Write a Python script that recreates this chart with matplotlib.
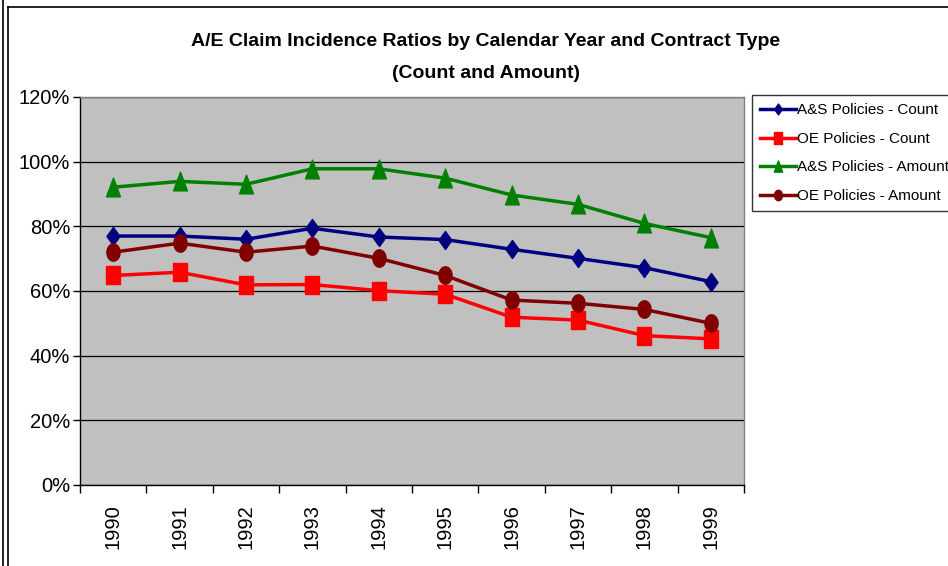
import matplotlib
matplotlib.use("Agg")
import matplotlib.pyplot as plt
from matplotlib.lines import Line2D
from matplotlib.path import Path
import numpy as np

years = ["1990", "1991", "1992", "1993", "1994", "1995", "1996", "1997", "1998", "1999"]
as_count = [77.0, 77.0, 76.0, 79.4, 76.7, 75.9, 72.9, 70.1, 67.2, 62.9]
oe_count = [64.8, 65.8, 61.9, 62.0, 60.1, 59.0, 51.9, 51.0, 46.2, 45.2]
as_amount = [92.1, 93.9, 93.0, 97.8, 97.8, 94.9, 89.7, 86.8, 80.9, 76.5]
oe_amount = [72.0, 74.8, 72.0, 73.9, 70.1, 64.8, 57.2, 56.2, 54.3, 50.0]
series_names = ["A&S Policies - Count", "OE Policies - Count",
                "A&S Policies - Amount", "OE Policies - Amount"]
y_ticks = [0, 20, 40, 60, 80, 100, 120]

font = "Liberation Sans"

# markers in the original are a bit taller than wide
diamond = Path([(0, 1), (0.72, 0), (0, -1), (-0.72, 0), (0, 1)], closed=True)
square = Path([(-0.72, -1), (0.72, -1), (0.72, 1), (-0.72, 1), (-0.72, -1)], closed=True)
triangle = Path([(0, 1), (0.74, -1), (-0.74, -1), (0, 1)], closed=True)
t = np.linspace(0, 2 * np.pi, 40)
ellipse = Path(np.column_stack([0.76 * np.cos(t), np.sin(t)]), closed=True)

W, H = 948, 566
fig = plt.figure(figsize=(W / 100, H / 100), dpi=100)
fig.patch.set_facecolor("white")

# chart frame lines
fig.add_artist(Line2D([3 / W, 3 / W], [0, 1], color="black", lw=1.2))
fig.add_artist(Line2D([8 / W, 8 / W], [0, 1 - 7 / H], color="black", lw=1.2))
fig.add_artist(Line2D([8 / W, 1], [1 - 7 / H, 1 - 7 / H], color="black", lw=1.2))

ax = fig.add_axes([80 / W, 1 - 485 / H, 664 / W, 388 / H])
ax.set_facecolor("#C0C0C0")

x = list(range(len(years)))
ax.plot(x, as_count, color="#000080", lw=2.5, marker=diamond, ms=13, label=series_names[0], zorder=3)
ax.plot(x, oe_count, color="#FF0000", lw=2.5, marker=square, ms=13.5, label=series_names[1], zorder=3)
ax.plot(x, as_amount, color="#008000", lw=2.5, marker=triangle, ms=13.5, label=series_names[2], zorder=3)
ax.plot(x, oe_amount, color="#800000", lw=2.5, marker=ellipse, ms=12.5, label=series_names[3], zorder=3)

ax.set_xlim(-0.5, len(years) - 0.5)
ax.set_ylim(0, 120)
ax.set_yticks(y_ticks)
ax.set_yticklabels([f"{v}%" for v in y_ticks], fontsize=14.5, family=font)
ax.yaxis.grid(True, color="black", lw=0.9)
ax.set_axisbelow(True)

ax.set_xticks(x)
ax.set_xticklabels(years, rotation=90, fontsize=14.5, family=font)
ax.set_xticks([i - 0.5 for i in range(len(years) + 1)], minor=True)
ax.tick_params(axis="x", which="major", length=0, pad=14)
ax.tick_params(axis="x", which="minor", length=6, width=1, direction="out")
ax.tick_params(axis="y", length=5, width=1, direction="out", pad=2)

for s in ["left", "bottom"]:
    ax.spines[s].set_color("black")
    ax.spines[s].set_linewidth(1)
for s in ["top", "right"]:
    ax.spines[s].set_color("#808080")
    ax.spines[s].set_linewidth(1)

fig.text(486 / W, 1 - 42 / H, "A/E Claim Incidence Ratios by Calendar Year and Contract Type",
         ha="center", va="center", fontsize=14, fontweight="bold", family=font)
fig.text(486 / W, 1 - 73 / H, "(Count and Amount)",
         ha="center", va="center", fontsize=14, fontweight="bold", family=font)

leg = fig.legend(loc="upper left", bbox_to_anchor=(752 / W, 1 - 95 / H),
                 prop={"family": font, "size": 11}, frameon=True, fancybox=False,
                 handlelength=2.3, handletextpad=0.1, markerscale=0.6,
                 labelspacing=0.95, borderpad=0.55, borderaxespad=0)
leg.get_frame().set_edgecolor("black")
leg.get_frame().set_linewidth(1)

fig.savefig("out.png", dpi=100)
